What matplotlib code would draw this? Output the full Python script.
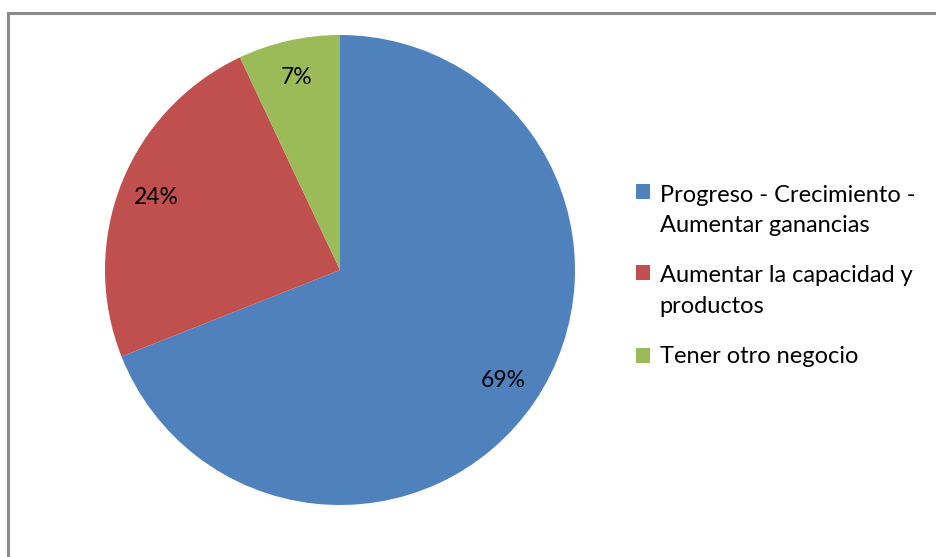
import matplotlib.pyplot as plt
from matplotlib.legend_handler import HandlerPatch
from matplotlib.patches import Rectangle

# Datos del gráfico
categorias = [
    "Progreso - Crecimiento -\nAumentar ganancias",
    "Aumentar la capacidad y\nproductos",
    "Tener otro negocio",
]
porcentajes = [69, 24, 7]
colores = ["#4F81BD", "#C0504D", "#9BBB59"]

plt.rcParams["font.family"] = ["Lato", "DejaVu Sans"]

W, H = 936, 557
fs = 16.5
fs_leyenda = 17
interlinea = 1.55
fig = plt.figure(figsize=(W / 100, H / 100), dpi=100)

# Marco gris del gráfico
fig.patches.append(
    Rectangle((8 / W, -0.05), 1.1, 1 - 13 / H + 0.05, transform=fig.transFigure,
              fill=False, edgecolor="#8C8C8C", linewidth=2.2)
)

# Pastel: centro (340, 270), radio 235 px
cx, cy, r = 340, 270, 235
ax = fig.add_axes([(cx - r) / W, (H - cy - r) / H, 2 * r / W, 2 * r / H])
wedges, _, autotexts = ax.pie(
    porcentajes,
    colors=colores,
    startangle=90,
    counterclock=False,
    autopct="%d%%",
    pctdistance=0.84,
    textprops={"fontsize": fs, "color": "black"},
)
ax.set_xlim(-1, 1)
ax.set_ylim(-1, 1)
ax.set_aspect("equal")
ax.axis("off")

# El cuadrito de la leyenda va alineado con la primera línea del texto
lineas = {id(w): c.count("\n") + 1 for w, c in zip(wedges, categorias)}


def cuadrito(legend, orig_handle, xdescent, ydescent, width, height, fontsize):
    extra = (lineas[id(orig_handle)] - 1) * 0.5 * interlinea * fontsize * 1.05
    return Rectangle((-xdescent, -ydescent + extra), width, height)


leg = fig.legend(
    wedges,
    categorias,
    loc="center left",
    bbox_to_anchor=(636 / W, 1 - 276 / H),
    frameon=False,
    fontsize=fs_leyenda,
    borderpad=0,
    borderaxespad=0,
    handlelength=0.6,
    handleheight=0.6,
    handletextpad=0.4,
    labelspacing=1.25,
    handler_map={w: HandlerPatch(patch_func=cuadrito) for w in wedges},
)
for t in leg.get_texts():
    t.set_linespacing(interlinea)

plt.savefig("out.png", dpi=100)
